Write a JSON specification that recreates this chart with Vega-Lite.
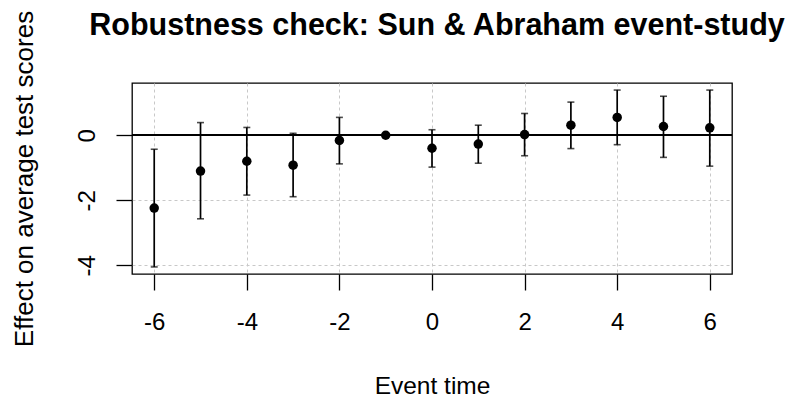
{
  "$schema": "https://vega.github.io/schema/vega-lite/v6.json",
  "autosize": {"type": "none"},
  "width": 600,
  "height": 191,
  "padding": {"left": 132, "top": 83, "right": 60, "bottom": 129},
  "background": "white",
  "title": {
    "text": "Robustness check: Sun & Abraham event-study",
    "font": "Liberation Sans",
    "fontSize": 30.5,
    "fontWeight": "bold",
    "color": "black",
    "baseline": "alphabetic",
    "offset": 0,
    "dy": 55,
    "dx": 5,
    "anchor": "middle"
  },
  "config": {
    "view": {"stroke": "black", "strokeWidth": 1.3},
    "axis": {
      "labelFont": "Liberation Sans",
      "titleFont": "Liberation Sans",
      "labelColor": "black",
      "titleColor": "black",
      "labelFontSize": 24,
      "titleFontSize": 24.5,
      "titleFontWeight": "normal",
      "tickColor": "black",
      "tickWidth": 1.3,
      "tickSize": 16,
      "domain": false,
      "grid": true,
      "gridColor": "#c8c8c8",
      "gridDash": [3, 3],
      "gridWidth": 1
    }
  },
  "data": {
    "values": [
      {"t": -6, "est": -2.24, "lo": -4.05, "hi": -0.43},
      {"t": -5, "est": -1.10, "lo": -2.57, "hi": 0.39},
      {"t": -4, "est": -0.80, "lo": -1.84, "hi": 0.24},
      {"t": -3, "est": -0.92, "lo": -1.89, "hi": 0.06},
      {"t": -2, "est": -0.16, "lo": -0.88, "hi": 0.55},
      {"t": -1, "est": 0.0, "lo": null, "hi": null},
      {"t": 0, "est": -0.40, "lo": -0.98, "hi": 0.17},
      {"t": 1, "est": -0.27, "lo": -0.86, "hi": 0.31},
      {"t": 2, "est": 0.02, "lo": -0.63, "hi": 0.67},
      {"t": 3, "est": 0.31, "lo": -0.41, "hi": 1.02},
      {"t": 4, "est": 0.55, "lo": -0.29, "hi": 1.39},
      {"t": 5, "est": 0.27, "lo": -0.68, "hi": 1.20},
      {"t": 6, "est": 0.23, "lo": -0.95, "hi": 1.39}
    ]
  },
  "layer": [
    {
      "mark": {"type": "rule", "color": "black", "strokeWidth": 1.3},
      "encoding": {"y": {"datum": 0, "type": "quantitative"}}
    },
    {
      "mark": {"type": "rule", "color": "black", "strokeWidth": 1.7},
      "encoding": {
        "x": {"field": "t", "type": "quantitative"},
        "y": {"field": "lo", "type": "quantitative"},
        "y2": {"field": "hi"}
      }
    },
    {
      "mark": {"type": "tick", "orient": "horizontal", "color": "black", "size": 7, "thickness": 1.6},
      "encoding": {
        "x": {"field": "t", "type": "quantitative"},
        "y": {"field": "lo", "type": "quantitative"}
      }
    },
    {
      "mark": {"type": "tick", "orient": "horizontal", "color": "black", "size": 7, "thickness": 1.6},
      "encoding": {
        "x": {"field": "t", "type": "quantitative"},
        "y": {"field": "hi", "type": "quantitative"}
      }
    },
    {
      "mark": {"type": "point", "filled": true, "color": "black", "opacity": 1, "size": 90},
      "encoding": {
        "x": {
          "field": "t",
          "type": "quantitative",
          "scale": {"domain": [-6.48, 6.48], "nice": false, "zero": false},
          "axis": {
            "title": "Event time",
            "values": [-6, -4, -2, 0, 2, 4, 6],
            "labelExpr": "'' + datum.value",
            "labelPadding": 20,
            "labelFlush": false,
            "titleBaseline": "alphabetic",
            "titleY": 119
          }
        },
        "y": {
          "field": "est",
          "type": "quantitative",
          "scale": {"domain": [-4.2676, 1.6076], "nice": false, "zero": false},
          "axis": {
            "title": "Effect on average test scores",
            "titleFontSize": 26,
            "values": [-4, -3, -2, -1, 0, 1],
            "labelExpr": "datum.value % 2 == 0 ? '' + datum.value : ''",
            "labelAngle": -90,
            "labelAlign": "center",
            "labelBaseline": "alphabetic",
            "labelPadding": 22,
            "labelFlush": false,
            "titleBaseline": "alphabetic",
            "titleX": -100
          }
        }
      }
    }
  ]
}
